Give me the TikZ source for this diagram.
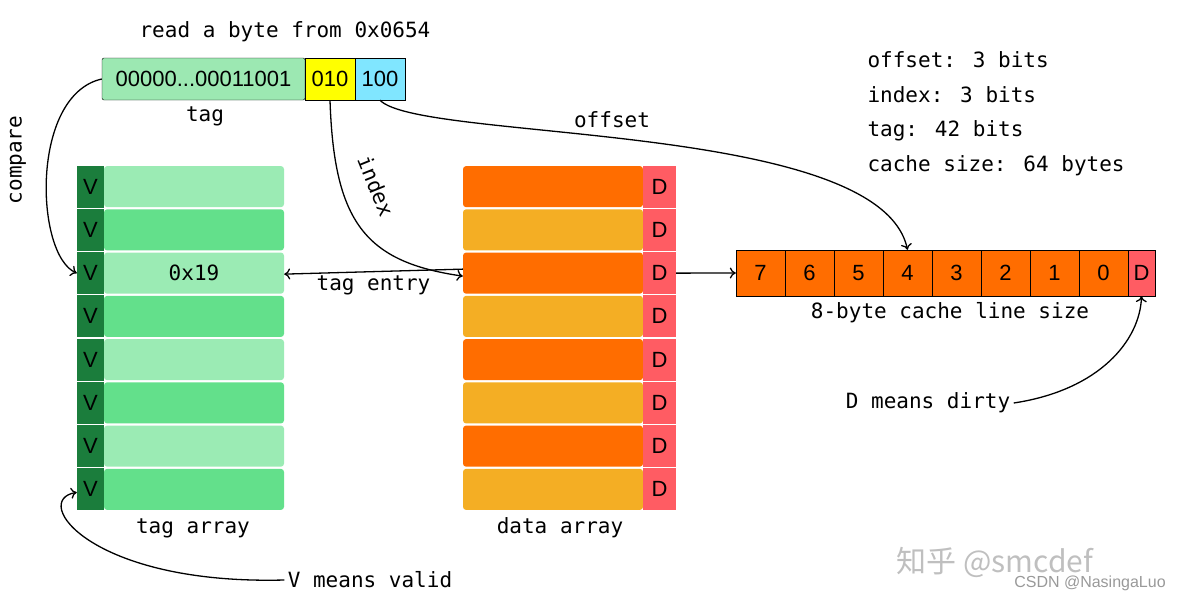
\documentclass[tikz,border=0pt]{standalone}
\usepackage{fontspec}
\setmainfont{DejaVu Sans Mono}
\newfontfamily\cellfont{Liberation Sans}
\newfontfamily\cjkfont{Noto Sans CJK SC}
\usetikzlibrary{arrows.meta}

\definecolor{addrgreen}{HTML}{9CE8B2}
\definecolor{addryellow}{HTML}{FFFF00}
\definecolor{addrcyan}{HTML}{80E6FF}
\definecolor{tagpale}{HTML}{9BEBB4}
\definecolor{tagmid}{HTML}{63E08B}
\definecolor{validgreen}{HTML}{1B7D3C}
\definecolor{lineorange}{HTML}{FF6D00}
\definecolor{linegold}{HTML}{F4AE24}
\definecolor{dirtyred}{HTML}{FF5C63}

\tikzset{
  hand/.style={font=\fontsize{21}{25}\selectfont},
  cell/.style={font=\cellfont\fontsize{22}{26}\selectfont, inner sep=0pt},
  row/.style={cell, minimum width=180pt, minimum height=41pt, rounded corners=3pt},
  vcell/.style={cell, fill=validgreen, minimum width=27pt, minimum height=42pt},
  dcell/.style={cell, fill=dirtyred, minimum width=33pt, minimum height=42pt},
  cachecell/.style={cell, draw, fill=lineorange, minimum width=49pt, minimum height=46pt},
  arrow/.style={-{To[length=6pt,width=11pt]}, line width=1.3pt},
}

\begin{document}
\begin{tikzpicture}[x=1pt,y=-1pt]
  \useasboundingbox (0,0) rectangle (1194,600);

  % address
  \node[hand] (readlbl) at (285,32) {read a byte from 0x0654};
  \node[cell, draw, fill=addrgreen, rounded corners=2pt, minimum width=203pt, minimum height=42pt] (addrtag) at (203.5,79) {00000...00011001};
  \node[cell, draw, fill=addryellow, minimum width=50pt, minimum height=42pt] (addridx) at (330,79) {010};
  \node[cell, draw, fill=addrcyan, minimum width=50pt, minimum height=42pt] (addroff) at (380,79) {100};
  \node[hand] (taglbl) at (205,116) {tag};

  \node[hand, anchor=west, align=left, font=\fontsize{21}{34.5}\selectfont] (info) at (864,113.5)
    {offset: 3 bits\\index: 3 bits\\tag: 42 bits\\cache size: 64 bytes};

  % tag array and data array
  \foreach \i/\tc/\dc in {1/tagpale/lineorange, 2/tagmid/linegold, 3/tagpale/lineorange, 4/tagmid/linegold,
                          5/tagpale/lineorange, 6/tagmid/linegold, 7/tagpale/lineorange, 8/tagmid/linegold} {
    \node[vcell] (v\i) at (90.5,{165+43.25*(\i-0.5)}) {V};
    \node[row, fill=\tc] (t\i) at (194,{165+43.25*(\i-0.5)}) {};
    \node[row, fill=\dc] (d\i) at (553,{165+43.25*(\i-0.5)}) {};
    \node[dcell] (dd\i) at (659.5,{165+43.25*(\i-0.5)}) {D};
  }
  \node[hand] (tagval) at (t3) {0x19};
  \node[hand] (tagarr) at (193,528) {tag array};
  \node[hand] (dataarr) at (560,528) {data array};

  % cache line
  \foreach \b [count=\k from 0] in {7,...,0}
    \node[cachecell] (c\b) at ({760.5+49*\k},273) {\b};
  \node[cachecell, fill=dirtyred, minimum width=27pt] (cd) at (1141.5,273) {D};
  \node[hand] (linesize) at (950,313) {8-byte cache line size};

  \node[hand] (dirtynote) at (928,403) {D means dirty};
  \node[hand] (validnote) at (370,580) {V means valid};

  % connectors
  \draw[arrow] (addrtag.west) .. controls (30,95) and (35,255) .. (v3.west);
  \node[hand, rotate=90] (cmplbl) at (18,160) {compare};
  \draw[arrow] (addridx.south) .. controls (334,222) and (365,262) .. ([yshift=-3pt]d3.west);
  \node[hand, rotate=-68] (idxlbl) at (376,186) {index};
  \draw[arrow] (addroff.south) .. controls (420,142) and (880,120) .. (c4.north);
  \node[hand] (offlbl) at (612,120) {offset};
  \draw[arrow] ([yshift=4pt]d3.west) -- node[hand, below] (entrylbl) {tag entry} ([yshift=-1pt]t3.east);
  \draw[arrow] (dd3.east) -- (c7.west);
  \draw[arrow] (dirtynote.east) .. controls (1100,390) and (1140,340) .. (cd.south);
  \draw[arrow] (validnote.west) .. controls (90,585) and (30,500) .. ([yshift=-3pt]v8.west);

  % watermark
  \node[font=\cjkfont\fontsize{30}{30}\selectfont, text=black!25] (zhihu) at (995,562) {知乎 @smcdef};
  \node[font=\cellfont\fontsize{16}{16}\selectfont, text=black!40] (csdn) at (1090,583) {CSDN @NasingaLuo};
\end{tikzpicture}
\end{document}
